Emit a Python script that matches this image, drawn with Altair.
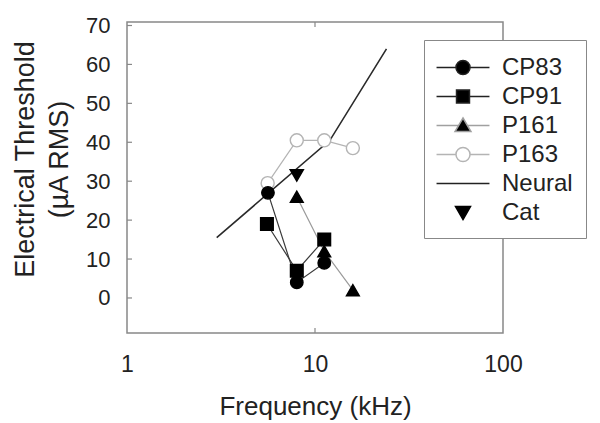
import altair as alt
import pandas as pd

# ---------------- data ----------------
series_names = ["CP83", "CP91", "P161", "P163", "Neural", "Cat"]

cp83_freq = [5.62, 8.0, 11.2]
cp83_thr = [27, 4, 9]
cp91_freq = [5.55, 8.0, 11.2]
cp91_thr = [19, 7, 15]
p161_freq = [8.0, 11.2, 15.9]
p161_thr = [26, 12, 2]
p163_freq = [5.6, 8.0, 11.2, 15.9]
p163_thr = [29.5, 40.5, 40.5, 38.5]
neural_freq = [3.0, 12.0, 24.0]
neural_thr = [15.5, 40.5, 64]
cat_freq = [8.0]
cat_thr = [31.5]

x_ticks = [1, 10, 100]
y_ticks = [0, 10, 20, 30, 40, 50, 60, 70]
x_inner_ticks = [10]

# ---------------- tables ----------------
def rows(name, fr, th):
    return [{"series": name, "freq": f, "thr": t} for f, t in zip(fr, th)]

pts = pd.DataFrame(
    rows("P163", p163_freq, p163_thr)
    + rows("CP91", cp91_freq, cp91_thr)
    + rows("P161", p161_freq, p161_thr)
    + rows("Cat", cat_freq, cat_thr)
    + rows("CP83", cp83_freq, cp83_thr)
)
lines = pd.DataFrame(
    rows("P163", p163_freq, p163_thr)
    + rows("CP91", cp91_freq, cp91_thr)
    + rows("P161", p161_freq, p161_thr)
    + rows("CP83", cp83_freq, cp83_thr)
)
neural = pd.DataFrame(rows("Neural", neural_freq, neural_thr))
leg = pd.DataFrame({"series": series_names, "freq": [1000] * 6, "thr": [0] * 6})
yt = pd.DataFrame({"v": y_ticks})
xt = pd.DataFrame({"v": x_inner_ticks})

W, H = 376, 311
FONT = "Liberation Sans"

x_scale = alt.Scale(type="log", domain=[1, 100])
y_scale = alt.Scale(domain=[-9, 70.9], nice=False, zero=False)

x_axis = alt.Axis(
    values=x_ticks, format="d", ticks=False, domain=False, grid=False,
    labelFontSize=23, labelFont=FONT, labelColor="#222", labelPadding=20,
    labelFlush=False,
    title="Frequency (kHz)", titleFontSize=26, titleFont=FONT,
    titleFontWeight="normal", titleColor="#222",
    titleY=81, titleBaseline="alphabetic",
)
y_axis = alt.Axis(
    values=y_ticks, ticks=False, domain=False, grid=False,
    labelFontSize=22, labelFont=FONT, labelColor="#222", labelPadding=17,
    title=["Electrical Threshold", "(µA RMS)"], titleFontSize=27, titleFont=FONT,
    titleFontWeight="normal", titleColor="#222",
    titleX=-94, titleY=137, titleAlign="center", titleBaseline="alphabetic",
    titleLineHeight=34,
)

X = alt.X("freq:Q", scale=x_scale, axis=x_axis)
Y = alt.Y("thr:Q", scale=y_scale, axis=y_axis)

sample_lines = alt.Chart(lines).mark_line(strokeWidth=1.2).encode(
    x=alt.X("freq:Q", scale=x_scale),
    y=alt.Y("thr:Q", scale=y_scale),
    detail="series:N",
    stroke=alt.Stroke(
        "series:N", legend=None,
        scale=alt.Scale(domain=["CP83", "CP91", "P161", "P163"],
                        range=["#3a3a3a", "#3a3a3a", "#9a9a9a", "#b4b4b4"]),
    ),
)

neural_line = alt.Chart(neural).mark_line(strokeWidth=1.6, color="#2a2a2a").encode(
    x=alt.X("freq:Q", scale=x_scale),
    y=alt.Y("thr:Q", scale=y_scale),
)

pt_dom = ["CP83", "CP91", "P161", "P163", "Cat"]
points = alt.Chart(pts).mark_point(filled=False, strokeWidth=1.4, opacity=1).encode(
    x=X,
    y=Y,
    shape=alt.Shape("series:N", legend=None, scale=alt.Scale(
        domain=pt_dom, range=["circle", "square", "triangle-up", "circle", "triangle-down"])),
    fill=alt.Fill("series:N", legend=None, scale=alt.Scale(
        domain=pt_dom, range=["#000000", "#000000", "#000000", "#ffffff", "#000000"])),
    stroke=alt.Stroke("series:N", legend=None, scale=alt.Scale(
        domain=pt_dom, range=["#000000", "#000000", "#000000", "#b4b4b4", "#000000"])),
    size=alt.Size("series:N", legend=None, scale=alt.Scale(
        domain=pt_dom, range=[155, 175, 240, 155, 240])),
)

left_ticks = alt.Chart(yt).mark_rule(color="#888", strokeWidth=1.2).encode(
    y=alt.Y("v:Q", scale=y_scale), x=alt.value(0), x2=alt.value(5))
bottom_ticks = alt.Chart(xt).mark_rule(color="#888", strokeWidth=1.2).encode(
    x=alt.X("v:Q", scale=x_scale), y=alt.value(H), y2=alt.value(H - 5))
top_ticks = alt.Chart(xt).mark_rule(color="#888", strokeWidth=1.2).encode(
    x=alt.X("v:Q", scale=x_scale), y=alt.value(0), y2=alt.value(5))

# legend symbols: custom paths (unit = 13.5 px at size 729)
circ = "M-1.96,0H-0.52M0.52,0H1.96M-0.52,0A0.52,0.52,0,1,0,0.52,0A0.52,0.52,0,1,0,-0.52,0Z"
sq = "M-1.96,0H-0.48M0.48,0H1.96M-0.48,-0.48H0.48V0.48H-0.48Z"
tri = "M-1.96,0H-0.33M0.33,0H1.96M0,-0.556L0.59,0.444L-0.59,0.444Z"
line_only = "M-1.96,0H1.96"
tri_down = "M0,0.52L0.556,-0.444L-0.556,-0.444Z"

legend = alt.Legend(
    title=None, orient="none", legendX=297, legendY=18,
    symbolSize=729, symbolStrokeWidth=1.5, symbolOpacity=1,
    labelFontSize=24, labelFont=FONT, labelColor="#222", labelLimit=0,
    labelExpr="datum.label + '   '",
    padding=13, strokeColor="#888", fillColor="white", cornerRadius=0,
    rowPadding=2, symbolOffset=11.5, labelOffset=24.5,
)
legend_layer = alt.Chart(leg).mark_point(clip=True, size=729, strokeWidth=1.5, opacity=1).encode(
    x=alt.X("freq:Q", scale=x_scale),
    y=alt.Y("thr:Q", scale=y_scale),
    shape=alt.Shape("series:N", legend=legend, scale=alt.Scale(
        domain=series_names, range=[circ, sq, tri, circ, line_only, tri_down])),
    fill=alt.Fill("series:N", legend=legend, scale=alt.Scale(
        domain=series_names,
        range=["#000000", "#000000", "#000000", "#ffffff", "transparent", "#000000"])),
    stroke=alt.Stroke("series:N", legend=legend, scale=alt.Scale(
        domain=series_names,
        range=["#222222", "#222222", "#a0a0a0", "#b4b4b4", "#222222", "#000000"])),
)

chart = (
    alt.layer(sample_lines, neural_line, points, left_ticks, bottom_ticks, top_ticks, legend_layer)
    .resolve_scale(shape="independent", fill="independent", stroke="independent", size="independent")
    .properties(
        width=W, height=H,
        autosize=alt.AutoSizeParams(type="none"),
        padding={"left": 119, "top": 14, "right": 87, "bottom": 92},
        background="white",
    )
    .configure_view(stroke="#888", strokeWidth=1.5)
)

chart.save("out.html", embed_options={"renderer": "svg", "actions": False})
